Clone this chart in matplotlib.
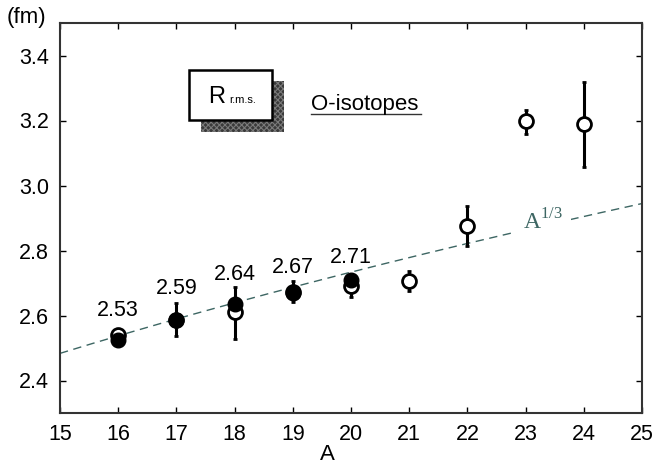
import numpy as np
import matplotlib
matplotlib.use("Agg")
import matplotlib.pyplot as plt
from matplotlib.patches import Rectangle
from matplotlib.lines import Line2D

plt.rcParams['font.family'] = ['Liberation Sans', 'DejaVu Sans']
plt.rcParams['hatch.linewidth'] = 0.8

# ---- data ----
A_filled = [16, 17, 18, 19, 20]
R_filled = [2.525, 2.585, 2.636, 2.668, 2.709]

A_open = [16, 17, 18, 19, 20, 21, 22, 23, 24]
R_open = [2.540, 2.585, 2.610, 2.672, 2.692, 2.707, 2.875, 3.197, 3.188]
err_lo = [0.010, 0.048, 0.083, 0.030, 0.036, 0.031, 0.062, 0.040, 0.132]
err_hi = [0.010, 0.054, 0.079, 0.035, 0.020, 0.031, 0.062, 0.036, 0.132]

label_A = [16, 17, 18, 19, 20]
label_txt = ["2.53", "2.59", "2.64", "2.67", "2.71"]

r0 = 1.007            # R = r0 * A^(1/3)
x_ticks = [15, 16, 17, 18, 19, 20, 21, 22, 23, 24, 25]
y_ticks = [2.4, 2.6, 2.8, 3.0, 3.2, 3.4]

# ---- figure ----
W, H = 657, 468
fig = plt.figure(figsize=(W / 100, H / 100), dpi=100)
ax = fig.add_axes([60 / W, 1 - 413 / H, (642 - 60) / W, (413 - 23) / H])

ax.set_xlim(15, 25)
ax.set_ylim(2.3, 3.5)

# A^(1/3) line
Ax = np.linspace(15, 25, 200)
ax.plot(Ax, r0 * Ax ** (1 / 3), ls=(0, (6, 4)), color='#3d6663', lw=1.0, zorder=1)
ax.text(23.3, r0 * 23.3 ** (1 / 3) + 0.012, r'A$^{\mathregular{1/3}}$', fontsize=17,
        family='Liberation Serif', color='#3d6663', ha='center', va='center',
        bbox=dict(facecolor='white', edgecolor='none', pad=6), zorder=2)

# open circles with error bars
ax.errorbar(A_open, R_open, yerr=[err_lo, err_hi], fmt='o', ms=10,
            mfc='white', mec='black', mew=2.0, ecolor='black', elinewidth=2.2,
            capsize=1.5, capthick=2.2, color='black', zorder=3)
# filled circles
ax.plot(A_filled, R_filled, 'o', ms=10.5, mfc='black', mec='black', zorder=4)

label_dy = [17, 19, 17, 15, 12]
for a, t, r, dy in zip(label_A, label_txt, R_filled, label_dy):
    ax.annotate(t, (a, r), xytext=(0, dy), textcoords='offset points',
                ha='center', va='baseline', fontsize=15.5)

ax.set_xticks(x_ticks)
ax.set_yticks(y_ticks)
ax.set_yticklabels([f"{v:.1f}" for v in y_ticks])
ax.tick_params(direction='in', length=4, width=1, top=True, right=True,
               labelsize=15.5, pad=8, colors='black')
for s in ax.spines.values():
    s.set_linewidth(1.5)
    s.set_color('#333333')

# axis labels
fig.text(26 / W, 1 - 17 / H, '(fm)', fontsize=16, ha='center', va='center')
fig.text(327 / W, 1 - 455 / H, 'A', fontsize=16, ha='center', va='center')

# R r.m.s. box with shadow
shadow = Rectangle((201 / W, 1 - 132 / H), 83 / W, 51 / H, transform=fig.transFigure,
                   facecolor='#3a3a3a', edgecolor='#7a7a7a', hatch='xxxxxx', lw=0, zorder=5)
box = Rectangle((189 / W, 1 - 120 / H), 83 / W, 50 / H, transform=fig.transFigure,
                facecolor='white', edgecolor='black', lw=1.8, zorder=6)
fig.add_artist(shadow)
fig.add_artist(box)
fig.text(208 / W, 1 - 103 / H, 'R', fontsize=17, ha='left', va='baseline', zorder=7)
fig.text(229 / W, 1 - 103 / H, 'r.m.s.', fontsize=8, ha='left', va='baseline', zorder=7)

# O-isotopes (underlined)
fig.text(311 / W, 1 - 110 / H, 'O-isotopes', fontsize=16, ha='left', va='baseline')
fig.add_artist(Line2D([311 / W, 421 / W], [1 - 114 / H, 1 - 114 / H],
                      transform=fig.transFigure, color='#333333', lw=1.0))

fig.savefig('out.png', dpi=100)
